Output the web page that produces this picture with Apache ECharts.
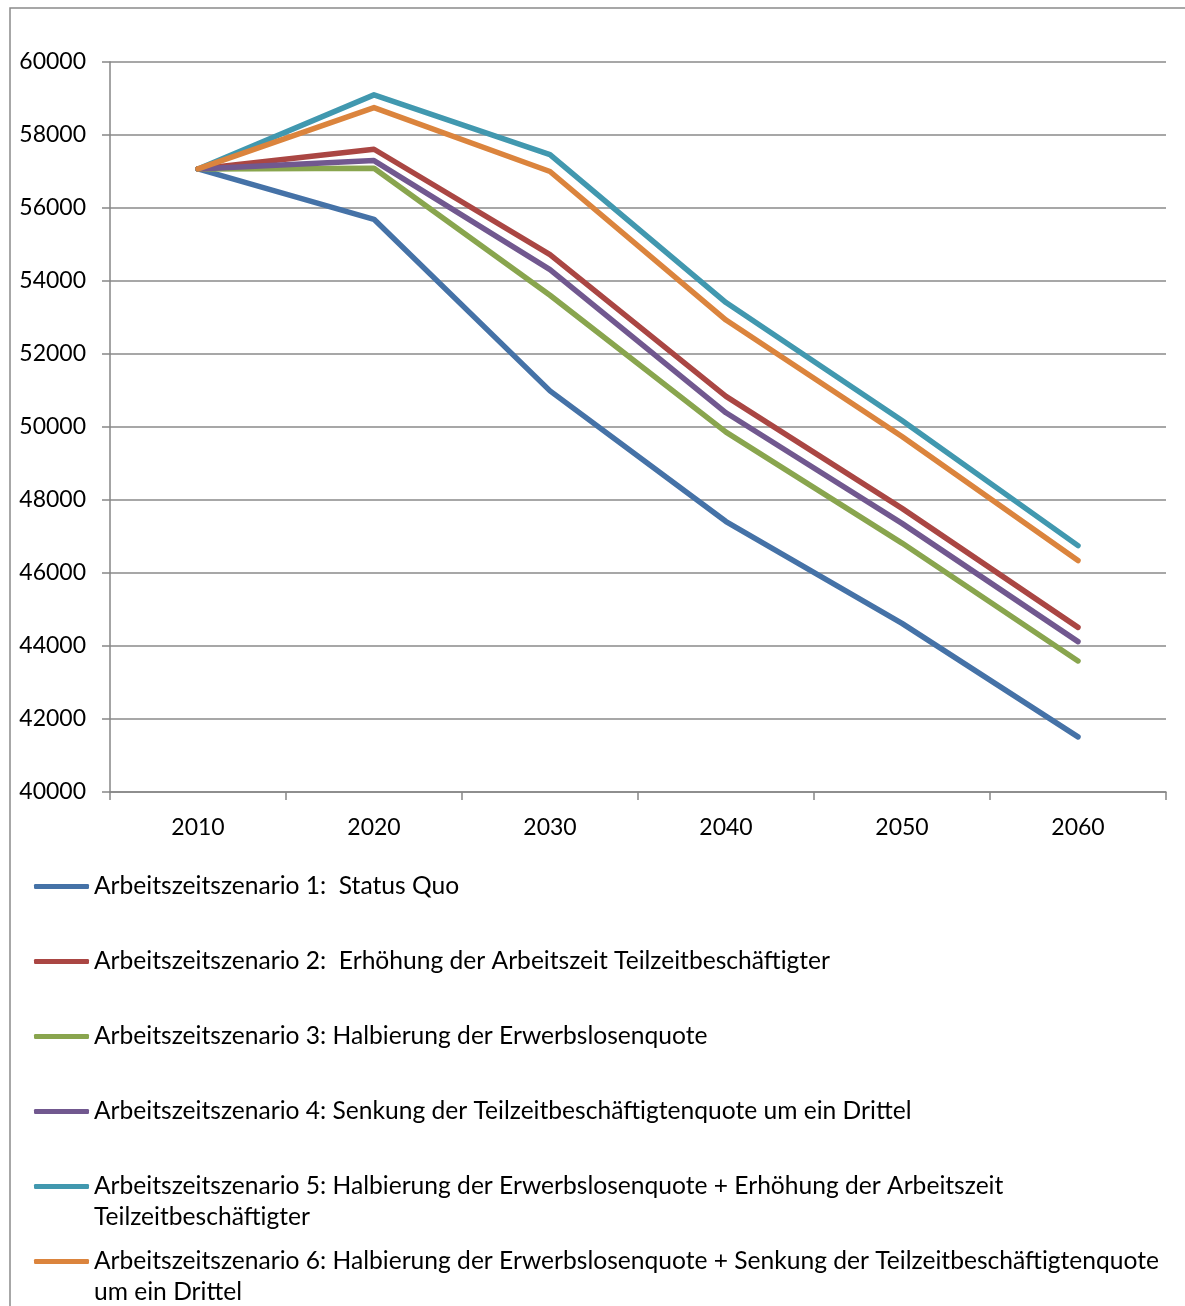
<!DOCTYPE html>
<html>
<head>
<meta charset="utf-8">
<script src="https://cdn.jsdelivr.net/npm/echarts@6/dist/echarts.min.js"></script>
<style>
  html, body { margin: 0; padding: 0; background: #fff; }
  #main { width: 1185px; height: 1306px; }
</style>
</head>
<body>
<div id="main"></div>
<script>
const years = ['2010', '2020', '2030', '2040', '2050', '2060']

const seriesNames = [
  'Arbeitszeitszenario 1:  Status Quo',
  'Arbeitszeitszenario 2:  Erhöhung der Arbeitszeit Teilzeitbeschäftigter',
  'Arbeitszeitszenario 3: Halbierung der Erwerbslosenquote',
  'Arbeitszeitszenario 4: Senkung der Teilzeitbeschäftigtenquote um ein Drittel',
  'Arbeitszeitszenario 5: Halbierung der Erwerbslosenquote + Erhöhung der Arbeitszeit Teilzeitbeschäftigter',
  'Arbeitszeitszenario 6: Halbierung der Erwerbslosenquote + Senkung der Teilzeitbeschäftigtenquote um ein Drittel'
]

const szenario1 = [57070, 55690, 50990, 47410, 44620, 41510]
const szenario2 = [57070, 57610, 54720, 50840, 47770, 44510]
const szenario3 = [57070, 57090, 53610, 49860, 46820, 43590]
const szenario4 = [57070, 57300, 54310, 50390, 47360, 44120]
const szenario5 = [57070, 59100, 57460, 53410, 50180, 46750]
const szenario6 = [57070, 58750, 57000, 52930, 49740, 46340]

const yTicks = { min: 40000, max: 60000, interval: 2000 }

const colors = ['#4572A7', '#AA4643', '#89A54E', '#71588F', '#4198AF', '#DB843D']

// where the legend wraps in the original
const legendText = {
  [seriesNames[4]]: 'Arbeitszeitszenario 5: Halbierung der Erwerbslosenquote + Erhöhung der Arbeitszeit\nTeilzeitbeschäftigter',
  [seriesNames[5]]: 'Arbeitszeitszenario 6: Halbierung der Erwerbslosenquote + Senkung der Teilzeitbeschäftigtenquote\num ein Drittel'
}

const font = 'Lato'
const allData = [szenario1, szenario2, szenario3, szenario4, szenario5, szenario6]

const chart = echarts.init(document.getElementById('main'))

// one legend per entry so the rows keep the fixed spacing of the original
const legendTops = [871, 946, 1021, 1096, 1140, 1215]
const legends = seriesNames.map((name, i) => ({
  data: [name],
  left: 34,
  top: legendTops[i],
  padding: 0,
  icon: 'roundRect',
  itemWidth: 55,
  itemHeight: 5,
  selectedMode: false,
  formatter: n => legendText[n] ? '\n' + legendText[n] : n,
  textStyle: {
    fontFamily: font,
    fontSize: 24.6,
    lineHeight: 31,
    color: '#000'
  }
}))

const option = {
  animation: false,
  color: colors,
  graphic: [{
    type: 'rect',
    shape: { x: 10, y: 8, width: 1200, height: 1320 },
    style: { fill: 'none', stroke: '#8a8a8a', lineWidth: 1.5 },
    silent: true
  }],
  legend: legends,
  grid: {
    left: 110,
    right: 19,
    top: 62,
    bottom: 514
  },
  xAxis: {
    type: 'category',
    data: years,
    boundaryGap: true,
    axisLine: { lineStyle: { color: '#868686', width: 1.5 } },
    axisTick: { show: true, length: 8, lineStyle: { color: '#868686', width: 1.5 } },
    axisLabel: {
      margin: 24,
      fontFamily: font,
      fontSize: 23,
      color: '#000'
    }
  },
  yAxis: {
    type: 'value',
    min: yTicks.min,
    max: yTicks.max,
    interval: yTicks.interval,
    axisLine: { show: true, lineStyle: { color: '#868686', width: 1.5 } },
    axisTick: { show: true, length: 8, lineStyle: { color: '#868686', width: 1.5 } },
    splitLine: { lineStyle: { color: '#8a8a8a', width: 1.5 } },
    axisLabel: {
      margin: 24,
      fontFamily: font,
      fontSize: 23,
      color: '#000',
      formatter: v => String(v)
    }
  },
  series: seriesNames.map((name, i) => ({
    name: name,
    type: 'line',
    data: allData[i],
    symbol: 'none',
    lineStyle: { width: 5.5, color: colors[i], cap: 'round', join: 'round' },
    itemStyle: { color: colors[i] }
  }))
}

chart.setOption(option)
</script>
</body>
</html>
